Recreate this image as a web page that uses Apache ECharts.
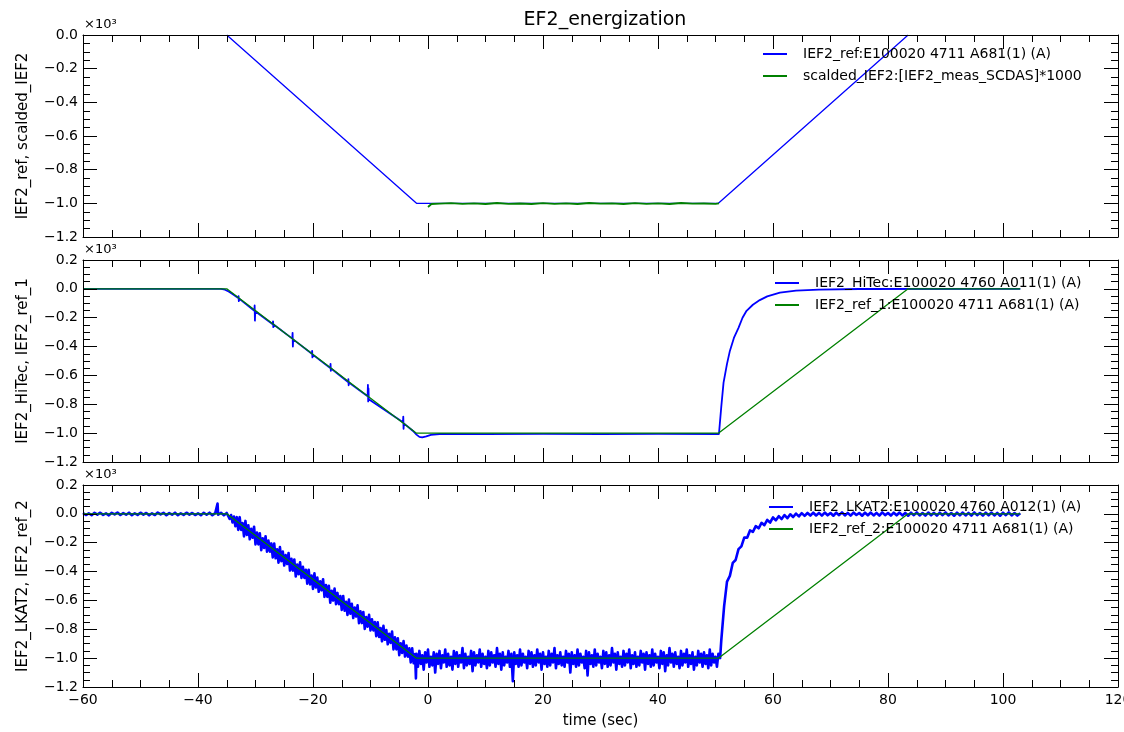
<!DOCTYPE html>
<html>
<head>
<meta charset="utf-8">
<title>EF2_energization</title>
<script src="https://cdn.jsdelivr.net/npm/echarts@6/dist/echarts.min.js"></script>
<style>
  html, body { margin: 0; padding: 0; background: #fff; }
  #chart { width: 1124px; height: 732px; }
</style>
</head>
<body>
<div id="chart"></div>
<script>
// values are in units of 10^3 A, time in seconds

const seriesNames = [
  'IEF2_ref:E100020 4711 A681(1) (A)',
  'scalded_IEF2:[IEF2_meas_SCDAS]*1000',
  'IEF2_HiTec:E100020 4760 A011(1) (A)',
  'IEF2_ref_1:E100020 4711 A681(1) (A)',
  'IEF2_LKAT2:E100020 4760 A012(1) (A)',
  'IEF2_ref_2:E100020 4711 A681(1) (A)'
]

const yAxisNames = ['IEF2_ref, scalded_IEF2', 'IEF2_HiTec, IEF2_ref_1', 'IEF2_LKAT2, IEF2_ref_2']
const yMin = [-1.2, -1.2, -1.2]
const yMax = [0, 0.2, 0.2]

// reference waveform, top panel shows only the part below 0
const refTopPts = [[-35, 0], [-2, -1.0], [50.5, -1.0], [83.5, 0]]
const refPts = [[-60, 0], [-35, 0], [-2, -1.0], [50.5, -1.0], [83.5, 0], [103, 0]]

const scaldedPts = [
  [0, -1.022], [0.2, -1.012], [0.6, -1.004], [2, -1.002], [4, -0.999], [6, -1.003], [8, -1.0],
  [10, -1.004], [12, -0.998], [14, -1.003], [16, -1.001], [18, -1.004], [20, -0.999], [22, -1.003],
  [24, -1.0], [26, -1.004], [28, -0.998], [30, -1.002], [32, -1.0], [34, -1.004], [36, -0.999],
  [38, -1.003], [40, -1.0], [42, -1.004], [44, -0.998], [46, -1.002], [48, -1.001], [50, -1.003], [50.6, -1.0]
]

const hitecPts = [
  [-60, 0], [-36, 0], [-35.3, -0.006], [-34.6, -0.02], [-34, -0.036], [-33, -0.064],
  [-32.95, -0.05], [-32.9, -0.085], [-32.85, -0.068],
  [-30.2, -0.152], [-30.15, -0.115], [-30.1, -0.22], [-30.05, -0.155],
  [-27, -0.245], [-26.95, -0.225], [-26.9, -0.265], [-26.85, -0.247],
  [-23.6, -0.345], [-23.55, -0.305], [-23.5, -0.4], [-23.45, -0.35],
  [-20.2, -0.45], [-20.15, -0.43], [-20.1, -0.475], [-20.05, -0.456],
  [-17, -0.548], [-16.95, -0.52], [-16.9, -0.568], [-16.85, -0.552],
  [-13.9, -0.645], [-13.85, -0.625], [-13.8, -0.668], [-13.75, -0.65],
  [-10.5, -0.745], [-10.45, -0.665], [-10.4, -0.78], [-10.35, -0.69], [-10.3, -0.765], [-10.25, -0.755],
  [-4.35, -0.925], [-4.3, -0.885], [-4.25, -0.97], [-4.2, -0.932],
  [-2.6, -0.985], [-2, -1.01], [-1.5, -1.026], [-1, -1.03], [-0.3, -1.022], [0.5, -1.012], [2, -1.006],
  [10, -1.007], [20, -1.005], [30, -1.007], [40, -1.005], [50.6, -1.006],
  [50.8, -1.0], [51.0, -0.82], [51.4, -0.65], [52.0, -0.52], [52.5, -0.43], [53.2, -0.34], [54.0, -0.27],
  [54.7, -0.2], [55.4, -0.152], [56.5, -0.11], [57.7, -0.078], [59, -0.052], [61.2, -0.026],
  [64, -0.012], [68, -0.005], [75, -0.001], [103, 0]
]

const lkat2Pts = [
  // before the ramp
  [-60, 0.006], [-59.5, -0.008], [-59, 0.004], [-58.5, -0.009], [-58, 0.007], [-57.5, -0.005], [-57, 0.008], [-56.5, -0.007], [-56, 0.003], [-55.5, -0.010],
  [-55, 0.007], [-54.5, -0.004], [-54, 0.009], [-53.5, -0.008], [-53, 0.005], [-52.5, -0.006], [-52, 0.008], [-51.5, -0.009], [-51, 0.004], [-50.5, -0.007],
  [-50, 0.008], [-49.5, -0.005], [-49, 0.006], [-48.5, -0.010], [-48, 0.004], [-47.5, -0.008], [-47, 0.009], [-46.5, -0.004], [-46, 0.007], [-45.5, -0.009],
  [-45, 0.005], [-44.5, -0.006], [-44, 0.008], [-43.5, -0.009], [-43, 0.004], [-42.5, -0.007], [-42, 0.008], [-41.5, -0.005], [-41, 0.006], [-40.5, -0.008],
  [-40, 0.004], [-39.5, -0.009], [-39, 0.007], [-38.5, -0.006], [-38, 0.008], [-37.5, -0.009], [-37, 0.005], [-36.7, -0.004], [-36.6, 0.072], [-36.5, -0.006],
  [-36, 0.007], [-35.5, -0.010], [-35, 0.006],
  // ramp down
  [-34.75, 0.004], [-34.5, -0.035], [-34.25, -0.008], [-34, -0.060], [-33.75, -0.018], [-33.5, -0.086], [-33.25, -0.023], [-33, -0.111], [-32.75, -0.023], [-32.5, -0.111],
  [-32.25, -0.063], [-32, -0.156], [-31.75, -0.049], [-31.5, -0.146], [-31.25, -0.079], [-31, -0.176], [-30.75, -0.104], [-30.5, -0.166], [-30.25, -0.089], [-30, -0.212],
  [-29.75, -0.129], [-29.5, -0.212], [-29.25, -0.134], [-29, -0.252], [-28.75, -0.169], [-28.5, -0.237], [-28.25, -0.155], [-28, -0.262], [-27.75, -0.185], [-27.5, -0.262],
  [-27.25, -0.205], [-27, -0.302], [-26.75, -0.205], [-26.5, -0.308], [-26.25, -0.245], [-26, -0.338], [-25.75, -0.230], [-25.5, -0.328], [-25.25, -0.261], [-25, -0.358],
  [-24.75, -0.286], [-24.5, -0.348], [-24.25, -0.271], [-24, -0.393], [-23.75, -0.311], [-23.5, -0.394], [-23.25, -0.316], [-23, -0.434], [-22.75, -0.351], [-22.5, -0.419],
  [-22.25, -0.336], [-22, -0.444], [-21.75, -0.367], [-21.5, -0.444], [-21.25, -0.387], [-21, -0.484], [-20.75, -0.387], [-20.5, -0.489], [-20.25, -0.427], [-20, -0.520],
  [-19.75, -0.412], [-19.5, -0.510], [-19.25, -0.442], [-19, -0.540], [-18.75, -0.467], [-18.5, -0.530], [-18.25, -0.453], [-18, -0.575], [-17.75, -0.493], [-17.5, -0.575],
  [-17.25, -0.498], [-17, -0.616], [-16.75, -0.533], [-16.5, -0.601], [-16.25, -0.518], [-16, -0.626], [-15.75, -0.548], [-15.5, -0.626], [-15.25, -0.569], [-15, -0.666],
  [-14.75, -0.569], [-14.5, -0.671], [-14.25, -0.609], [-14, -0.701], [-13.75, -0.594], [-13.5, -0.692], [-13.25, -0.624], [-13, -0.722], [-12.75, -0.649], [-12.5, -0.712],
  [-12.25, -0.634], [-12, -0.757], [-11.75, -0.675], [-11.5, -0.757], [-11.25, -0.680], [-11, -0.797], [-10.75, -0.715], [-10.5, -0.782], [-10.25, -0.700], [-10, -0.808],
  [-9.75, -0.730], [-9.5, -0.808], [-9.25, -0.750], [-9, -0.848], [-8.75, -0.751], [-8.5, -0.853], [-8.25, -0.791], [-8, -0.883], [-7.75, -0.776], [-7.5, -0.873],
  [-7.25, -0.806], [-7, -0.904], [-6.75, -0.831], [-6.5, -0.894], [-6.25, -0.816], [-6, -0.939], [-5.75, -0.856], [-5.5, -0.939], [-5.25, -0.862], [-5, -0.979],
  [-4.75, -0.897], [-4.5, -0.964], [-4.25, -0.882], [-4, -0.989], [-3.75, -0.912], [-3.5, -0.990], [-3.25, -0.932], [-3, -1.030], [-2.75, -0.932], [-2.5, -1.035],
  [-2.25, -0.972], [-2.1, -1.140],
  // flat top
  [-2, -0.97], [-1.75, -1.06], [-1.5, -0.95], [-1.25, -1.04], [-1, -0.98], [-0.75, -1.08], [-0.5, -0.96], [-0.25, -1.03], [0, -0.94], [0.25, -1.06],
  [0.5, -0.99], [0.75, -1.05], [1, -0.96], [1.25, -1.10], [1.5, -0.97], [1.75, -1.04], [2, -0.95], [2.25, -1.07], [2.5, -0.98], [2.75, -1.03],
  [3, -0.94], [3.25, -1.06], [3.5, -0.97], [3.75, -1.05], [4, -0.99], [4.25, -1.08], [4.5, -0.95], [4.75, -1.04], [5, -0.96], [5.25, -1.06],
  [5.5, -0.98], [5.75, -1.03], [6, -0.93], [6.25, -1.07], [6.5, -0.97], [6.75, -1.05], [7, -0.99], [7.25, -1.04], [7.5, -0.95], [7.75, -1.09],
  [8, -0.96], [8.25, -1.05], [8.5, -0.98], [8.75, -1.03], [9, -0.94], [9.25, -1.06], [9.5, -0.97], [9.75, -1.04], [10, -0.99], [10.25, -1.07],
  [10.5, -0.95], [10.75, -1.05], [11, -0.96], [11.25, -1.03], [11.5, -0.98], [11.75, -1.06], [12, -0.93], [12.25, -1.04], [12.5, -0.97], [12.75, -1.08],
  [13, -0.96], [13.25, -1.05], [13.5, -0.99], [13.75, -1.03], [14, -0.95], [14.25, -1.06], [14.5, -0.97], [14.75, -1.16], [15, -0.96], [15.25, -1.04],
  [15.5, -0.98], [15.75, -1.06], [16, -0.94], [16.25, -1.05], [16.5, -0.97], [16.75, -1.03], [17, -0.99], [17.25, -1.07], [17.5, -0.95], [17.75, -1.04],
  [18, -0.96], [18.25, -1.06], [18.5, -0.98], [18.75, -1.05], [19, -0.94], [19.25, -1.03], [19.5, -0.97], [19.75, -1.08], [20, -0.96], [20.25, -1.04],
  [20.5, -0.99], [20.75, -1.06], [21, -0.95], [21.25, -1.05], [21.5, -0.97], [21.75, -1.03], [22, -0.93], [22.25, -1.07], [22.5, -0.98], [22.75, -1.04],
  [23, -0.96], [23.25, -1.05], [23.5, -0.99], [23.75, -1.06], [24, -0.95], [24.25, -1.03], [24.5, -0.97], [24.75, -1.10], [25, -0.96], [25.25, -1.04],
  [25.5, -0.98], [25.75, -1.06], [26, -0.94], [26.25, -1.05], [26.5, -0.97], [26.75, -1.03], [27, -0.99], [27.25, -1.07], [27.5, -0.95], [27.75, -1.12],
  [28, -0.96], [28.25, -1.04], [28.5, -0.98], [28.75, -1.06], [29, -0.94], [29.25, -1.05], [29.5, -0.97], [29.75, -1.03], [30, -0.99], [30.25, -1.07],
  [30.5, -0.95], [30.75, -1.04], [31, -0.96], [31.25, -1.06], [31.5, -0.98], [31.75, -1.05], [32, -0.93], [32.25, -1.03], [32.5, -0.97], [32.75, -1.08],
  [33, -0.96], [33.25, -1.04], [33.5, -0.99], [33.75, -1.06], [34, -0.95], [34.25, -1.05], [34.5, -0.97], [34.75, -1.03], [35, -0.94], [35.25, -1.07],
  [35.5, -0.98], [35.75, -1.04], [36, -0.96], [36.25, -1.06], [36.5, -0.99], [36.75, -1.05], [37, -0.95], [37.25, -1.03], [37.5, -0.97], [37.75, -1.08],
  [38, -0.96], [38.25, -1.04], [38.5, -0.98], [38.75, -1.06], [39, -0.94], [39.25, -1.05], [39.5, -0.97], [39.75, -1.03], [40, -0.99], [40.25, -1.07],
  [40.5, -0.95], [40.75, -1.04], [41, -0.96], [41.25, -1.09], [41.5, -0.98], [41.75, -1.05], [42, -0.93], [42.25, -1.03], [42.5, -0.97], [42.75, -1.06],
  [43, -0.96], [43.25, -1.04], [43.5, -0.99], [43.75, -1.07], [44, -0.95], [44.25, -1.05], [44.5, -0.97], [44.75, -1.03], [45, -0.94], [45.25, -1.06],
  [45.5, -0.98], [45.75, -1.04], [46, -0.96], [46.25, -1.08], [46.5, -0.99], [46.75, -1.05], [47, -0.95], [47.25, -1.03], [47.5, -0.97], [47.75, -1.06],
  [48, -0.96], [48.25, -1.04], [48.5, -0.98], [48.75, -1.07], [49, -0.94], [49.25, -1.05], [49.5, -0.97], [49.75, -1.03], [50, -0.99], [50.25, -1.06],
  [50.5, -0.97],
  // recovery
  [50.8, -1.00], [51.0, -0.88], [51.5, -0.64], [52.0, -0.47], [52.5, -0.43], [53.0, -0.34], [53.5, -0.32], [54.0, -0.245], [54.5, -0.225], [55.0, -0.165],
  [55.5, -0.165], [56.0, -0.115], [56.5, -0.125], [57.0, -0.085], [57.5, -0.10], [58.0, -0.062], [58.5, -0.078], [59.0, -0.042], [59.5, -0.060], [60.0, -0.025],
  [60.5, -0.045], [61.0, -0.016], [61.5, -0.036], [62.0, -0.008], [62.5, -0.030], [63.0, -0.003], [63.5, -0.022], [64.0, 0.002], [64.5, -0.018], [65.0, 0.005],
  [65.5, -0.014], [66, 0.006], [66.5, -0.012], [67, 0.008], [67.5, -0.011], [68, 0.007], [68.5, -0.012], [69, 0.009], [69.5, -0.010], [70, 0.006],
  [70.5, -0.013], [71, 0.008], [71.5, -0.009], [72, 0.010], [72.5, -0.011], [73, 0.007], [73.5, -0.012], [74, 0.009], [74.5, -0.008], [75, 0.006],
  [75.5, -0.013], [76, 0.008], [76.5, -0.010], [77, 0.009], [77.5, -0.011], [78, 0.007], [78.5, -0.012], [79, 0.010], [79.5, -0.009], [80, 0.006],
  [80.5, -0.012], [81, 0.008], [81.5, -0.010], [82, 0.009], [82.5, -0.011], [83, 0.007], [83.5, -0.013], [84, 0.008], [84.5, -0.009], [85, 0.010],
  [85.5, -0.011], [86, 0.006], [86.5, -0.012], [87, 0.009], [87.5, -0.010], [88, 0.007], [88.5, -0.012], [89, 0.008], [89.5, -0.009], [90, 0.010],
  [90.5, -0.011], [91, 0.006], [91.5, -0.013], [92, 0.008], [92.5, -0.010], [93, 0.009], [93.5, -0.011], [94, 0.007], [94.5, -0.012], [95, 0.010],
  [95.5, -0.009], [96, 0.006], [96.5, -0.012], [97, 0.008], [97.5, -0.010], [98, 0.009], [98.5, -0.011], [99, 0.007], [99.5, -0.013], [100, 0.008],
  [100.5, -0.009], [101, 0.010], [101.5, -0.011], [102, 0.006], [102.5, -0.012], [103, 0.004]
]

const BLUE = '#0000ff'
const GREEN = '#008000'
const FONT = 'DejaVu Sans'

const gridTops = [35, 260, 485]
const legendPos = [[763, 47], [775, 276], [769, 500]]
const offsetTextTops = [18, 243, 468]

function minus(v, digits) {
  const s = digits === undefined ? String(Math.abs(v)) : Math.abs(v).toFixed(digits)
  return (v < -1e-9 ? '\u2212' : '') + s
}

const tickLine = { color: '#000', width: 1 }

const xAxes = []
const yAxes = []
for (let g = 0; g < 3; g++) {
  const xBase = {
    type: 'value', gridIndex: g, min: -60, max: 120, interval: 20, z: 5,
    axisLine: { onZero: false, lineStyle: { color: '#000', width: 1 } },
    axisTick: { inside: true, length: 14, lineStyle: tickLine },
    minorTick: { show: true, splitNumber: 4, length: 7, lineStyle: tickLine },
    splitLine: { show: false }
  }
  xAxes.push(Object.assign({}, xBase, {
    position: 'bottom',
    name: g === 2 ? 'time (sec)' : '',
    nameLocation: 'middle',
    nameGap: 27,
    nameTextStyle: { color: '#000', fontSize: 15, fontFamily: FONT },
    axisLabel: {
      show: g === 2, margin: 6, color: '#000', fontSize: 14, fontFamily: FONT,
      formatter: function(v) { return minus(v) }
    }
  }))
  xAxes.push(Object.assign({}, xBase, { position: 'top', axisLabel: { show: false } }))

  const yBase = {
    type: 'value', gridIndex: g, min: yMin[g], max: yMax[g], interval: 0.2, z: 5,
    axisLine: { onZero: false, lineStyle: { color: '#000', width: 1 } },
    axisTick: { inside: true, length: 14, lineStyle: tickLine },
    minorTick: { show: true, splitNumber: 4, length: 7, lineStyle: tickLine },
    splitLine: { show: false }
  }
  yAxes.push(Object.assign({}, yBase, {
    position: 'left',
    name: yAxisNames[g],
    nameLocation: 'middle',
    nameGap: 52,
    nameTextStyle: { color: '#000', fontSize: 15, fontFamily: FONT },
    axisLabel: {
      margin: 5, color: '#000', fontSize: 14, fontFamily: FONT,
      formatter: function(v) { return minus(v, 1) }
    }
  }))
  yAxes.push(Object.assign({}, yBase, { position: 'right', axisLabel: { show: false } }))
}

function lineSeries(name, grid, data, color, width) {
  return {
    name: name, type: 'line', xAxisIndex: grid * 2, yAxisIndex: grid * 2,
    data: data, showSymbol: false, symbol: 'none', animation: false,
    lineStyle: { color: color, width: width, join: 'round' },
    itemStyle: { color: color }
  }
}

const chart = echarts.init(document.getElementById('chart'))
chart.setOption({
  backgroundColor: '#fff',
  animation: false,
  title: {
    text: 'EF2_energization', left: 600, top: 6, textAlign: 'center',
    textStyle: { color: '#000', fontSize: 19, fontWeight: 'normal', fontFamily: FONT }
  },
  grid: gridTops.map(function(t) {
    return { left: 83, right: 6, top: t, height: 202, containLabel: false, outerBoundsMode: 'none' }
  }),
  xAxis: xAxes,
  yAxis: yAxes,
  legend: [0, 1, 2].map(function(g) {
    return {
      data: [seriesNames[g * 2], seriesNames[g * 2 + 1]],
      orient: 'vertical', left: legendPos[g][0], top: legendPos[g][1],
      icon: 'rect', itemWidth: 24, itemHeight: 2, itemGap: 8, padding: 0,
      selectedMode: false,
      textStyle: { color: '#000', fontSize: 14, fontFamily: FONT, padding: [0, 0, 0, 11] }
    }
  }),
  graphic: offsetTextTops.map(function(t) {
    return { type: 'text', left: 84, top: t, style: { text: '\u00d710\u00b3', fill: '#000', fontSize: 13, fontFamily: FONT } }
  }),
  series: [
    lineSeries(seriesNames[0], 0, refTopPts, BLUE, 1.3),
    lineSeries(seriesNames[1], 0, scaldedPts, GREEN, 1.8),
    lineSeries(seriesNames[2], 1, hitecPts, BLUE, 1.8),
    lineSeries(seriesNames[3], 1, refPts, GREEN, 1.3),
    lineSeries(seriesNames[4], 2, lkat2Pts, BLUE, 2.6),
    lineSeries(seriesNames[5], 2, refPts, GREEN, 1.3)
  ]
})
</script>
</body>
</html>
